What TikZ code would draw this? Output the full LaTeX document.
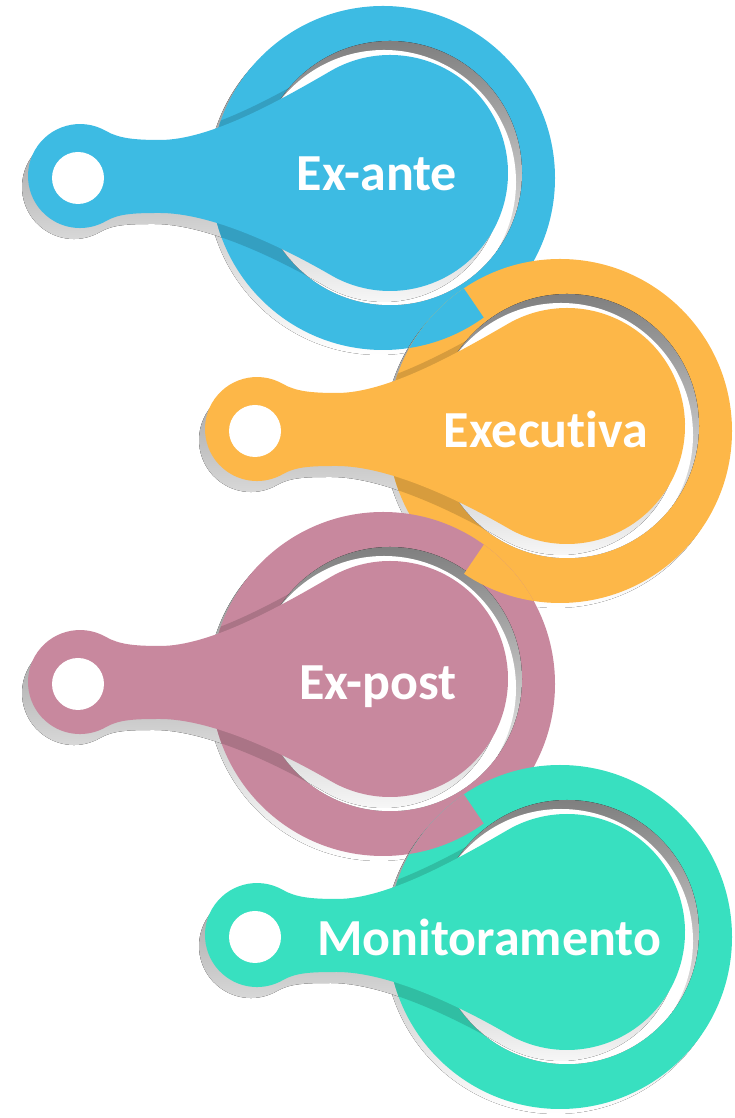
\documentclass[tikz,border=0pt]{standalone}
\usepackage{fontspec}
\setmainfont{Carlito}[Ligatures=NoCommon]
\usepackage{xcolor}
\usepackage{tikz}
\usetikzlibrary{positioning}

\definecolor{exblue}{HTML}{3DBBE3}
\definecolor{exorange}{HTML}{FDB748}
\definecolor{expink}{HTML}{C8889E}
\definecolor{exteal}{HTML}{38E0C0}
\definecolor{shade}{HTML}{B3B3B3}

\newcommand{\keyholepath}{(120:118pt) .. controls (-111pt,72pt) and (-180pt,33pt) .. (-230pt,33pt)
  .. controls (-255pt,33pt) and (-271pt,34.5pt) .. (-284pt,42pt)
  arc[start angle=60,end angle=300,radius=52pt]
  .. controls (-271pt,-40.5pt) and (-255pt,-40pt) .. (-230pt,-40pt)
  .. controls (-180pt,-40pt) and (-111pt,-72pt) .. (240:118pt)
  arc[start angle=240,end angle=480,radius=118pt] -- cycle}

\newcommand{\keyunit}[3]{%
  \begin{scope}[shift={(#2,#3)}]
    \fill[shade] (-11pt,-10pt) circle[radius=172pt];
    \fill[shade, xshift=-6pt, yshift=-11pt] \keyholepath;
    \fill[#1] (-7pt,-5pt) circle[radius=172pt];
    \begin{scope}
      \clip (-7pt,-5pt) circle[radius=172pt];
      \fill[#1!85!black, xshift=-6pt, yshift=-11pt] \keyholepath;
      \fill[#1!85!black, xshift=-3pt, yshift=5pt] \keyholepath;
    \end{scope}
    \fill[shade] (0,0) circle[radius=132pt];
    \begin{scope}
      \clip (0,0) circle[radius=132pt];
      \fill[white] (-6pt,-9pt) circle[radius=132pt];
      \fill[shade, xshift=-6pt, yshift=-11pt] \keyholepath;
    \end{scope}
    \fill[#1] \keyholepath;
    \fill[white] (-312pt,-5pt) circle[radius=26pt];
  \end{scope}}

\begin{document}
\begin{tikzpicture}[x=1pt, y=1pt,
    stage/.style={text=white, font=\bfseries\fontsize{52pt}{62pt}\selectfont, anchor=base, inner sep=0pt}]
  \useasboundingbox (0,0) rectangle (735,1118);

  \keyunit{exblue}{390}{945}
  \keyunit{exorange}{567}{692}
  \begin{scope}
    \clip (560,687) circle[radius=172pt];
    \clip (300,900) -- (416,900) -- (552,700) -- (300,700) -- cycle;
    \fill[exblue] (383,940) circle[radius=172pt];
  \end{scope}
  \keyunit{expink}{390}{439}
  \begin{scope}
    \clip (383,434) circle[radius=172pt];
    \clip (536,650) -- (700,650) -- (700,450) -- (400,450) -- cycle;
    \fill[exorange] (560,687) circle[radius=172pt];
  \end{scope}
  \keyunit{exteal}{567}{186}
  \begin{scope}
    \clip (560,181) circle[radius=172pt];
    \clip (300,394) -- (416,394) -- (552,194) -- (300,194) -- cycle;
    \fill[expink] (383,434) circle[radius=172pt];
  \end{scope}

  \node[stage] (exante) at (377,927) {Ex-ante};
  \node[stage] (executiva) at (546,670) {Executiva};
  \node[stage] (expost) at (378,418) {Ex-post};
  \node[stage] (monitor) at (489,162) {Monitoramento};
\end{tikzpicture}
\end{document}
